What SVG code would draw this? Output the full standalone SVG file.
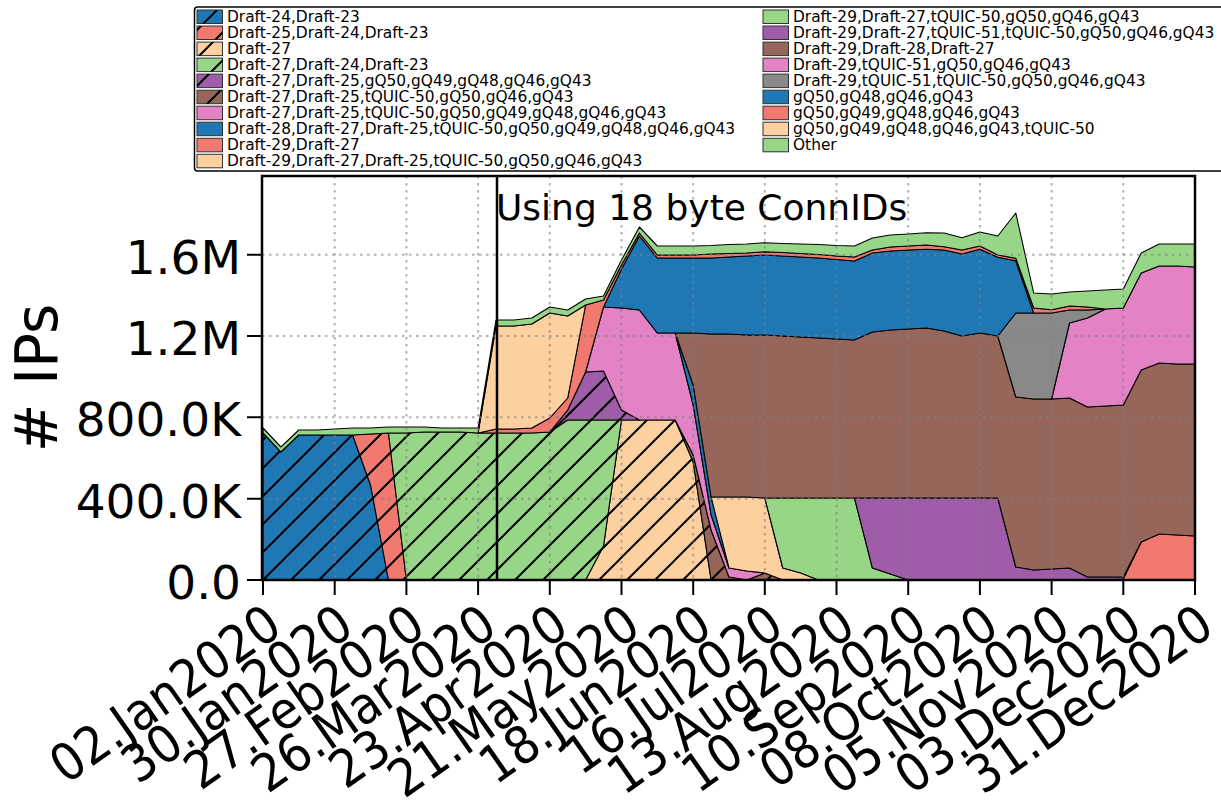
<svg xmlns="http://www.w3.org/2000/svg" width="1221" height="802" viewBox="0 0 1221 802">
<style>
text{font-family:"DejaVu Sans","Liberation Sans",sans-serif;fill:#000}
.yt{font-size:47px;text-anchor:end}
.xt{font-size:47px;text-anchor:end}
.lg{font-size:15.4px}
.area{stroke:#000;stroke-width:1.1;stroke-linejoin:round}
.sw{stroke:#333;stroke-width:1}
.h{fill:url(#hatch);stroke:none}
.blue{fill:#1f77b4}.red{fill:#f27970}.peach{fill:#fdd09f}.green{fill:#96d686}
.purple{fill:#9f5ca8}.brown{fill:#956659}.pink{fill:#e383c6}.gray{fill:#898989}
.grid{stroke:#808080;stroke-opacity:0.6;stroke-width:2;stroke-dasharray:2.5 4.5;fill:none}
.tk{stroke:#000;stroke-width:2}
</style>
<defs>
<pattern id="hatch" patternUnits="userSpaceOnUse" width="28" height="28" x="3" y="0">
<path d="M-7,7 L7,-7 M0,28 L28,0 M21,35 L35,21" stroke="#000" stroke-width="2"/>
</pattern>
<polygon id="p1" points="263,433 280.9,452 298.8,435 316.8,435 334.7,435 352.6,435 370.5,485 388.5,580 263,580"/>
<polygon id="p2" points="352.6,435 370.5,434 388.5,433 406.4,580 388.5,580 370.5,485"/>
<polygon id="p3" points="585.6,580 603.5,546 621.5,420 639.4,420 657.3,420 675.2,420 693.2,462 711.1,580"/>
<polygon id="p4" points="388.5,433 406.4,433 424.3,432 442.2,432 460.2,432 478.1,433 496,433 513.9,433 531.8,433 549.8,432 567.7,420 585.6,420 603.5,420 621.5,420 603.5,546 585.6,580 406.4,580"/>
<polygon id="p5" points="549.8,432 567.7,410 585.6,372 603.5,371 621.5,410 639.4,420 621.5,420 603.5,420 585.6,420 567.7,420"/>
<polygon id="p6" points="675.2,420 693.2,455 711.1,530 729,577 746.9,580 764.8,573 782.8,580 764.8,580 746.9,580 729,580 711.1,580 693.2,462"/>
</defs>
<rect width="1221" height="802" fill="#fff"/>

<g id="areas">
<use href="#p1" class="area blue"/><use href="#p1" class="h"/>
<use href="#p2" class="area red"/><use href="#p2" class="h"/>
<use href="#p3" class="area peach"/><use href="#p3" class="h"/>
<use href="#p4" class="area green"/><use href="#p4" class="h"/>
<use href="#p5" class="area purple"/><use href="#p5" class="h"/>
<use href="#p6" class="area brown"/><use href="#p6" class="h"/>
<polygon class="area pink" points="585.6,372 603.5,307 621.5,308 639.4,310 657.3,333 675.2,333 693.2,405 711.1,515 729,568 746.9,571 764.8,573 746.9,580 729,577 711.1,530 693.2,455 675.2,420 657.3,420 639.4,420 621.5,410 603.5,371"/>
<polygon class="area blue" points="675.2,333 693.2,385 711.1,497 729,568 711.1,515 693.2,405"/>
<polygon class="area red" points="1105.4,580 1123.3,579 1141.2,542 1159.2,534 1177.1,535 1195,536 1195,580"/>
<polygon class="area peach" points="711.1,497 729,497 746.9,497 764.8,498 782.8,568 800.7,573 818.6,580 800.7,580 782.8,580 764.8,573 746.9,571 729,568"/>
<polygon class="area green" points="764.8,498 782.8,498 800.7,498 818.6,498 836.5,498 854.5,498 872.4,568 890.3,574 908.2,580 890.3,580 872.4,580 854.5,580 836.5,580 818.6,580 800.7,573 782.8,568"/>
<polygon class="area purple" points="854.5,498 872.4,498 890.3,498 908.2,498 926.2,498 944.1,498 962,498 979.9,498 997.8,498 1015.8,567 1033.7,570 1051.6,569 1069.5,568 1087.5,577 1105.4,577 1123.3,577 1141.2,542 1123.3,579 1105.4,580 1087.5,580 1069.5,580 1051.6,580 1033.7,580 1015.8,580 997.8,580 979.9,580 962,580 944.1,580 926.2,580 908.2,580 890.3,574 872.4,568"/>
<polygon class="area brown" points="675.2,333 693.2,333 711.1,334 729,334 746.9,335 764.8,335 782.8,336 800.7,337 818.6,338 836.5,339 854.5,340 872.4,332 890.3,330 908.2,329 926.2,328 944.1,331 962,336 979.9,333 997.8,336 1015.8,397 1033.7,399 1051.6,399 1069.5,398 1087.5,407 1105.4,406 1123.3,405 1141.2,370 1159.2,363 1177.1,364 1195,364 1195,536 1177.1,535 1159.2,534 1141.2,542 1123.3,577 1105.4,577 1087.5,577 1069.5,568 1051.6,569 1033.7,570 1015.8,567 997.8,498 979.9,498 962,498 944.1,498 926.2,498 908.2,498 890.3,498 872.4,498 854.5,498 836.5,498 818.6,498 800.7,498 782.8,498 764.8,498 746.9,497 729,497 711.1,497 693.2,385"/>
<polygon class="area pink" points="1051.6,399 1069.5,323 1087.5,318 1105.4,309 1123.3,308 1141.2,273 1159.2,266 1177.1,266 1195,267 1195,364 1177.1,364 1159.2,363 1141.2,370 1123.3,405 1105.4,406 1087.5,407 1069.5,398"/>
<polygon class="area gray" points="997.8,336 1015.8,313 1033.7,313 1051.6,313 1069.5,310 1087.5,310 1105.4,309 1087.5,318 1069.5,323 1051.6,399 1033.7,399 1015.8,397"/>
<polygon class="area blue" points="603.5,307 621.5,269 639.4,236 657.3,258 675.2,258 693.2,258 711.1,258 729,257 746.9,256 764.8,255 782.8,256 800.7,257 818.6,258 836.5,259.5 854.5,261 872.4,253 890.3,251 908.2,250 926.2,249.3 944.1,250 962,254 979.9,249.3 997.8,257.3 1015.8,260.7 1033.7,313 1015.8,313 997.8,336 979.9,333 962,336 944.1,331 926.2,328 908.2,329 890.3,330 872.4,332 854.5,340 836.5,339 818.6,338 800.7,337 782.8,336 764.8,335 746.9,335 729,334 711.1,334 693.2,333 675.2,333 657.3,333 639.4,310 621.5,308"/>
<polygon class="area red" points="478.1,433 496,429 513.9,429 531.8,428 549.8,418 567.7,398 585.6,305 603.5,300 621.5,265 639.4,233 657.3,255 675.2,255 693.2,255 711.1,254 729,253.5 746.9,253 764.8,251.7 782.8,252.5 800.7,253.5 818.6,254.5 836.5,256 854.5,257 872.4,250 890.3,247 908.2,246 926.2,245 944.1,246.7 962,250 979.9,246 997.8,255 1015.8,258.3 1033.7,308 1051.6,309.7 1069.5,306 1087.5,307 1105.4,309 1087.5,310 1069.5,310 1051.6,313 1033.7,313 1015.8,260.7 997.8,257.3 979.9,249.3 962,254 944.1,250 926.2,249.3 908.2,250 890.3,251 872.4,253 854.5,261 836.5,259.5 818.6,258 800.7,257 782.8,256 764.8,255 746.9,256 729,257 711.1,258 693.2,258 675.2,258 657.3,258 639.4,236 621.5,269 603.5,307 585.6,372 567.7,410 549.8,432 531.8,433 513.9,433 496,433"/>
<polygon class="area peach" points="478.1,433 496,326 513.9,326 531.8,324 549.8,313 567.7,316 585.6,305 567.7,398 549.8,418 531.8,428 513.9,429 496,429"/>
<polygon class="area green" points="263,428 280.9,447 298.8,430 316.8,430 334.7,429 352.6,428 370.5,428 388.5,427 406.4,427 424.3,427 442.2,428 460.2,428 478.1,428 496,320 513.9,320 531.8,318 549.8,307 567.7,310 585.6,299 603.5,296 621.5,260 639.4,227 657.3,246 675.2,246 693.2,246 711.1,245.5 729,244.5 746.9,244 764.8,242.7 782.8,243.5 800.7,244 818.6,244.5 836.5,245.5 854.5,246 872.4,238 890.3,235 908.2,234 926.2,232.7 944.1,233 962,237.7 979.9,232 997.8,236 1015.8,213 1033.7,293 1051.6,294 1069.5,292 1087.5,291 1105.4,290 1123.3,289 1141.2,253 1159.2,244 1177.1,244 1195,244 1195,267 1177.1,266 1159.2,266 1141.2,273 1123.3,308 1105.4,309 1087.5,307 1069.5,306 1051.6,309.7 1033.7,308 1015.8,258.3 997.8,255 979.9,246 962,250 944.1,246.7 926.2,245 908.2,246 890.3,247 872.4,250 854.5,257 836.5,256 818.6,254.5 800.7,253.5 782.8,252.5 764.8,251.7 746.9,253 729,253.5 711.1,254 693.2,255 675.2,255 657.3,255 639.4,233 621.5,265 603.5,300 585.6,305 567.7,316 549.8,313 531.8,324 513.9,326 496,326 478.1,433 460.2,432 442.2,432 424.3,432 406.4,433 388.5,433 370.5,434 352.6,435 334.7,435 316.8,435 298.8,435 280.9,452 263,433"/>
</g>

<g id="grid" class="grid">
<path d="M334.7,176V580M406.4,176V580M478.1,176V580M549.8,176V580M621.5,176V580M693.2,176V580M764.8,176V580M836.5,176V580M908.2,176V580M979.9,176V580M1051.6,176V580M1123.3,176V580"/>
<path d="M262,498.7H1195M262,417.3H1195M262,336H1195M262,254.7H1195"/>
</g>

<g id="marker">
<line x1="497" y1="176" x2="497" y2="580" stroke="#000" stroke-width="2.5"/>
<text x="496" y="220" font-size="36">Using 18 byte ConnIDs</text>
</g>

<g id="axes">
<rect x="262" y="176" width="933" height="404" fill="none" stroke="#000" stroke-width="2.5"/>
<path class="tk" d="M263,580v15M334.7,580v15M406.4,580v15M478.1,580v15M549.8,580v15M621.5,580v15M693.2,580v15M764.8,580v15M836.5,580v15M908.2,580v15M979.9,580v15M1051.6,580v15M1123.3,580v15M1195,580v15"/>
<path class="tk" d="M247,580h15M247,498.7h15M247,417.3h15M247,336h15M247,254.7h15"/>
<text class="yt" x="241" y="599">0.0</text>
<text class="yt" x="241" y="517.7">400.0K</text>
<text class="yt" x="241" y="436.3">800.0K</text>
<text class="yt" x="241" y="355">1.2M</text>
<text class="yt" x="241" y="273.7">1.6M</text>
<text transform="translate(57,378) rotate(-90)" font-size="58" text-anchor="middle"># IPs</text>
<text class="xt" transform="translate(284.5,632) rotate(-35) scale(1,1.1)">02.Jan2020</text>
<text class="xt" transform="translate(356.2,632) rotate(-35) scale(1,1.1)">30.Jan2020</text>
<text class="xt" transform="translate(427.9,632) rotate(-35) scale(1,1.1)">27.Feb2020</text>
<text class="xt" transform="translate(499.6,632) rotate(-35) scale(1,1.1)">26.Mar2020</text>
<text class="xt" transform="translate(571.3,632) rotate(-35) scale(1,1.1)">23.Apr2020</text>
<text class="xt" transform="translate(643,632) rotate(-35) scale(1,1.1)">21.May2020</text>
<text class="xt" transform="translate(714.7,632) rotate(-35) scale(1,1.1)">18.Jun2020</text>
<text class="xt" transform="translate(786.3,632) rotate(-35) scale(1,1.1)">16.Jul2020</text>
<text class="xt" transform="translate(858,632) rotate(-35) scale(1,1.1)">13.Aug2020</text>
<text class="xt" transform="translate(929.7,632) rotate(-35) scale(1,1.1)">10.Sep2020</text>
<text class="xt" transform="translate(1001.4,632) rotate(-35) scale(1,1.1)">08.Oct2020</text>
<text class="xt" transform="translate(1073.1,632) rotate(-35) scale(1,1.1)">05.Nov2020</text>
<text class="xt" transform="translate(1144.8,632) rotate(-35) scale(1,1.1)">03.Dec2020</text>
<text class="xt" transform="translate(1216.5,632) rotate(-35) scale(1,1.1)">31.Dec2020</text>
</g>

<g id="legend">
<rect x="194.5" y="7" width="1040" height="164" rx="3" fill="#fff" stroke="#000" stroke-width="1.5"/>
<g id="leg-left">
<rect class="sw blue" x="197" y="10" width="25.5" height="13.5"/><rect class="h" x="197" y="10" width="25.5" height="13.5"/>
<text class="lg" x="227" y="22">Draft-24,Draft-23</text>
<rect class="sw red" x="197" y="26" width="25.5" height="13.5"/><rect class="h" x="197" y="26" width="25.5" height="13.5"/>
<text class="lg" x="227" y="38">Draft-25,Draft-24,Draft-23</text>
<rect class="sw peach" x="197" y="42.1" width="25.5" height="13.5"/><rect class="h" x="197" y="42.1" width="25.5" height="13.5"/>
<text class="lg" x="227" y="54.1">Draft-27</text>
<rect class="sw green" x="197" y="58.1" width="25.5" height="13.5"/><rect class="h" x="197" y="58.1" width="25.5" height="13.5"/>
<text class="lg" x="227" y="70.1">Draft-27,Draft-24,Draft-23</text>
<rect class="sw purple" x="197" y="74.1" width="25.5" height="13.5"/><rect class="h" x="197" y="74.1" width="25.5" height="13.5"/>
<text class="lg" x="227" y="86.1">Draft-27,Draft-25,gQ50,gQ49,gQ48,gQ46,gQ43</text>
<rect class="sw brown" x="197" y="90.2" width="25.5" height="13.5"/><rect class="h" x="197" y="90.2" width="25.5" height="13.5"/>
<text class="lg" x="227" y="102.2">Draft-27,Draft-25,tQUIC-50,gQ50,gQ46,gQ43</text>
<rect class="sw pink" x="197" y="106.2" width="25.5" height="13.5"/>
<text class="lg" x="227" y="118.2">Draft-27,Draft-25,tQUIC-50,gQ50,gQ49,gQ48,gQ46,gQ43</text>
<rect class="sw blue" x="197" y="122.2" width="25.5" height="13.5"/>
<text class="lg" x="227" y="134.2">Draft-28,Draft-27,Draft-25,tQUIC-50,gQ50,gQ49,gQ48,gQ46,gQ43</text>
<rect class="sw red" x="197" y="138.3" width="25.5" height="13.5"/>
<text class="lg" x="227" y="150.3">Draft-29,Draft-27</text>
<rect class="sw peach" x="197" y="154.3" width="25.5" height="13.5"/>
<text class="lg" x="227" y="166.3">Draft-29,Draft-27,Draft-25,tQUIC-50,gQ50,gQ46,gQ43</text>
</g>
<g id="leg-right">
<rect class="sw green" x="763" y="10" width="25.5" height="13.5"/>
<text class="lg" x="793" y="22">Draft-29,Draft-27,tQUIC-50,gQ50,gQ46,gQ43</text>
<rect class="sw purple" x="763" y="26" width="25.5" height="13.5"/>
<text class="lg" x="793" y="38">Draft-29,Draft-27,tQUIC-51,tQUIC-50,gQ50,gQ46,gQ43</text>
<rect class="sw brown" x="763" y="42.1" width="25.5" height="13.5"/>
<text class="lg" x="793" y="54.1">Draft-29,Draft-28,Draft-27</text>
<rect class="sw pink" x="763" y="58.1" width="25.5" height="13.5"/>
<text class="lg" x="793" y="70.1">Draft-29,tQUIC-51,gQ50,gQ46,gQ43</text>
<rect class="sw gray" x="763" y="74.1" width="25.5" height="13.5"/>
<text class="lg" x="793" y="86.1">Draft-29,tQUIC-51,tQUIC-50,gQ50,gQ46,gQ43</text>
<rect class="sw blue" x="763" y="90.2" width="25.5" height="13.5"/>
<text class="lg" x="793" y="102.2">gQ50,gQ48,gQ46,gQ43</text>
<rect class="sw red" x="763" y="106.2" width="25.5" height="13.5"/>
<text class="lg" x="793" y="118.2">gQ50,gQ49,gQ48,gQ46,gQ43</text>
<rect class="sw peach" x="763" y="122.2" width="25.5" height="13.5"/>
<text class="lg" x="793" y="134.2">gQ50,gQ49,gQ48,gQ46,gQ43,tQUIC-50</text>
<rect class="sw green" x="763" y="138.3" width="25.5" height="13.5"/>
<text class="lg" x="793" y="150.3">Other</text>
</g>
</g>
</svg>
